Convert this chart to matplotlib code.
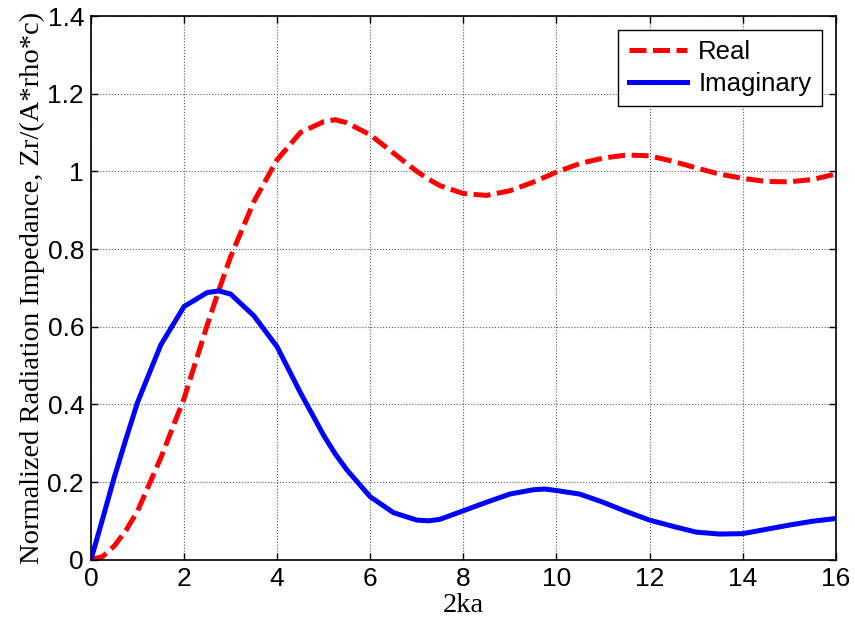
import matplotlib
matplotlib.use("Agg")
import matplotlib.pyplot as plt

# x = 2ka
x_vals = [0.0, 0.25, 0.5, 0.75, 1.0, 1.5, 2.0, 2.5, 2.75, 3.0, 3.5, 4.0, 4.5, 5.0, 5.25, 5.5, 6.0,
          6.5, 7.0, 7.25, 7.5, 8.0, 8.5, 9.0, 9.5, 9.75, 10.0, 10.5, 11.0, 11.5, 12.0, 12.5,
          13.0, 13.5, 14.0, 14.5, 15.0, 15.5, 16.0]
real_vals = [0.0, 0.008, 0.035, 0.075, 0.125, 0.262, 0.415, 0.605, 0.695, 0.78, 0.922, 1.03,
             1.10, 1.128, 1.133, 1.125, 1.094, 1.047, 1.0, 0.98, 0.963, 0.943, 0.938, 0.95,
             0.972, 0.985, 0.998, 1.02, 1.034, 1.042, 1.04, 1.026, 1.009, 0.993, 0.982, 0.974,
             0.973, 0.979, 0.993]
imag_vals = [0.0, 0.105, 0.212, 0.31, 0.405, 0.553, 0.652, 0.688, 0.692, 0.684, 0.628, 0.548,
             0.43, 0.32, 0.272, 0.231, 0.162, 0.121, 0.102, 0.1, 0.104, 0.126, 0.148, 0.169,
             0.18, 0.182, 0.178, 0.169, 0.148, 0.124, 0.102, 0.086, 0.071, 0.066, 0.067, 0.078,
             0.089, 0.099, 0.106]

xticks = [0, 2, 4, 6, 8, 10, 12, 14, 16]
yticks = [0, 0.2, 0.4, 0.6, 0.8, 1.0, 1.2, 1.4]
ytick_labels = ["0", "0.2", "0.4", "0.6", "0.8", "1", "1.2", "1.4"]

fig = plt.figure(figsize=(8.55, 6.28), dpi=100)
ax = fig.add_axes([0.1064, 0.1088, 0.8710, 0.8657])

ax.plot(x_vals, real_vals, color="#ff0000", linewidth=3.6, linestyle="--",
        dashes=(3.4, 1.3), label="Real")
ax.plot(x_vals, imag_vals, color="#0000ff", linewidth=3.6, label="Imaginary")

ax.set_xlim(0, 16)
ax.set_ylim(0, 1.4)
ax.set_xticks(xticks)
ax.set_yticks(yticks)
ax.set_yticklabels(ytick_labels)

for lab in ax.get_xticklabels() + ax.get_yticklabels():
    lab.set_fontfamily(["Liberation Sans", "DejaVu Sans"])
    lab.set_fontsize(19)

ax.tick_params(direction="in", top=True, right=True, length=5, width=1.0, pad=5,
               colors="black")
ax.grid(True, linestyle=":", color="0.35", linewidth=0.8)
for s in ax.spines.values():
    s.set_linewidth(1.2)

ax.set_xlabel("2ka", family=["Liberation Serif", "DejaVu Serif"], fontsize=20.5, labelpad=2)
ax.set_ylabel("Normalized Radiation Impedance, Zr/(A*rho*c)",
              family=["Liberation Serif", "DejaVu Serif"], fontsize=20.5, labelpad=2)

leg = ax.legend(loc="upper right", prop={"family": ["Liberation Sans", "DejaVu Sans"], "size": 18.5},
                fancybox=False, edgecolor="black", framealpha=1, handlelength=2.25,
                borderaxespad=0.55, labelspacing=0.3, handletextpad=0.45, borderpad=0.4)
leg.get_frame().set_linewidth(1.0)

fig.savefig("out.png", dpi=100)
